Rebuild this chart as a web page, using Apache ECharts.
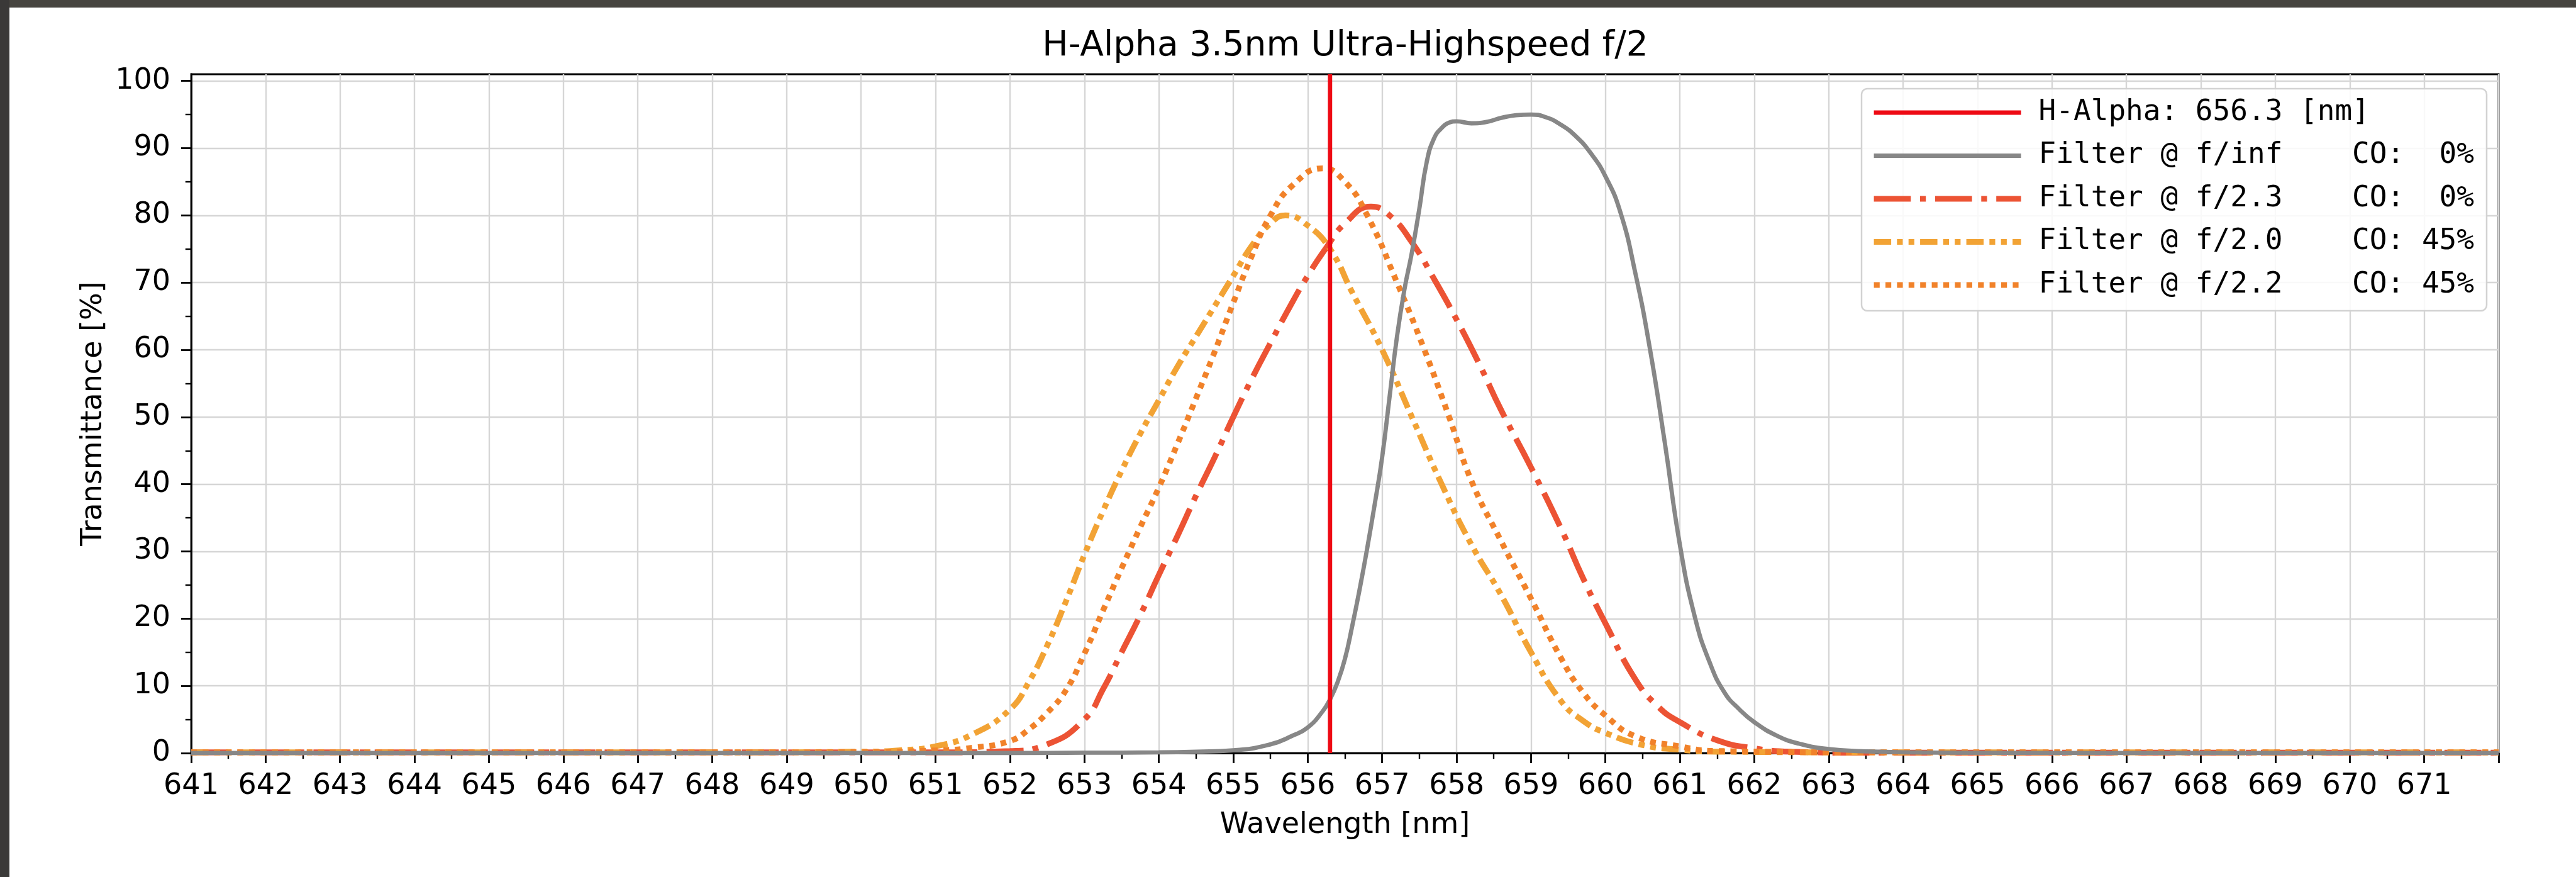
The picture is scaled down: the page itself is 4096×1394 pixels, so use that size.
<!DOCTYPE html>
<html>
<head>
<meta charset="utf-8">
<script src="https://cdn.jsdelivr.net/npm/echarts@6/dist/echarts.min.js"></script>
<style>
html, body { margin: 0; padding: 0; background: #fff; }
#chart { position: absolute; left: 0; top: 0; width: 4096px; height: 1394px; }
#frameTop { position: absolute; left: 0; top: 0; width: 4096px; height: 12px; background: #46443f; }
#frameLeft { position: absolute; left: 0; top: 0; width: 15px; height: 1394px; background: #3a3938; }
</style>
</head>
<body>
<div id="chart"></div>
<div id="frameTop"></div>
<div id="frameLeft"></div>
<script>
// H-Alpha marker
var hAlpha = 656.3;

// filter @ f/inf, CO 0%
var wlInf = [641, 645, 649, 652, 653, 654, 654.5, 655, 655.5, 655.8, 656, 656.2, 656.3, 656.4, 656.5, 656.6, 656.7, 656.8, 656.9, 657,
	657.1, 657.2, 657.3, 657.4, 657.5, 657.6, 657.7, 657.8, 657.9, 658, 658.2, 658.4, 658.6, 658.8, 659, 659.2, 659.4, 659.6, 659.8, 660,
	660.2, 660.4, 660.6, 660.8, 661, 661.2, 661.4, 661.6, 661.8, 662, 662.3, 662.6, 663, 663.5, 664.5, 668, 672];
var tInf = [0, 0, 0, 0, 0.05, 0.1, 0.2, 0.4, 1.3, 2.6, 3.8, 6.2, 8, 10.5, 14, 19, 24.5, 30.5, 37, 44,
	53, 62, 69, 74.5, 81, 88, 91.5, 93, 93.8, 94, 93.7, 93.9, 94.5, 94.9, 95, 94.6, 93.5, 91.8, 89.3, 85.8,
	80.5, 71.5, 60, 46, 31, 20.3, 13.5, 9, 6.5, 4.6, 2.6, 1.4, 0.6, 0.25, 0.05, 0, 0];

// filter @ f/2.3, CO 0%
var wl23 = [641, 645, 649, 651, 652, 652.5, 653, 653.25, 653.5, 653.75, 654, 654.25, 654.5, 654.75, 655, 655.25, 655.5, 655.75, 656, 656.25,
	656.5, 656.85, 657.1, 657.4, 657.7, 658, 658.3, 658.6, 659, 659.4, 659.7, 660, 660.4, 660.7, 661, 661.5, 662, 662.5, 663.5, 668, 672];
var t23 = [0.1, 0.1, 0.1, 0.1, 0.3, 1.3, 5, 9.5, 15, 20.5, 26.5, 32.3, 38.3, 44, 50, 55.7, 61, 66.2, 71, 75.2,
	78.8, 81.3, 80, 76, 70.5, 64.5, 58, 51, 42.5, 33.5, 26, 19.3, 11, 7, 4.6, 1.9, 0.7, 0.2, 0.05, 0.05, 0.05];

// filter @ f/2.0, CO 45%
var wl20 = [641, 645, 648, 650, 650.5, 651, 651.5, 652, 652.25, 652.5, 652.75, 653, 653.25, 653.5, 653.75, 654, 654.25, 654.5, 654.75, 655,
	655.25, 655.5, 655.7, 656, 656.3, 656.6, 657, 657.4, 657.8, 658.2, 658.6, 659, 659.4, 659.7, 660, 660.5, 661, 661.5, 664, 668, 672];
var t20 = [0.1, 0.1, 0.1, 0.2, 0.4, 1.0, 2.8, 6.5, 10.5, 16, 22.5, 29.5, 36, 42, 47.5, 52.5, 57.5, 62, 66.5, 71,
	75.5, 78.8, 80, 78.5, 75, 68.5, 60, 50, 40, 31, 23.5, 15, 7.8, 4.8, 3.0, 1.2, 0.5, 0.2, 0.1, 0.1, 0.1];

// filter @ f/2.2, CO 45%
var wl22 = [641, 645, 648, 650, 651, 651.5, 652, 652.25, 652.5, 652.75, 653, 653.25, 653.5, 653.75, 654, 654.25, 654.5, 654.75, 655, 655.25,
	655.5, 655.8, 656.2, 656.5, 656.8, 657.2, 657.55, 657.9, 658.2, 658.6, 659, 659.4, 659.7, 660, 660.4, 661, 661.5, 664, 668, 672];
var t22 = [0.1, 0.1, 0.1, 0.15, 0.4, 0.8, 1.8, 3.5, 6, 9.3, 14.8, 21.2, 27.5, 33.6, 39.5, 46, 52.8, 59.7, 67, 74,
	80, 84.5, 87, 85, 80, 70, 60.5, 50, 40.5, 31.5, 23, 14.2, 9, 5.6, 2.5, 1.0, 0.3, 0.1, 0.1, 0.1];

var xTicks = [641, 642, 643, 644, 645, 646, 647, 648, 649, 650, 651, 652, 653, 654, 655, 656,
	657, 658, 659, 660, 661, 662, 663, 664, 665, 666, 667, 668, 669, 670, 671];
var yTicks = [0, 10, 20, 30, 40, 50, 60, 70, 80, 90, 100];
var yMinorTicks = [5, 15, 25, 35, 45, 55, 65, 75, 85, 95];

var names = [
	'H-Alpha: 656.3 [nm]',
	'Filter @ f/inf    CO:  0%',
	'Filter @ f/2.3    CO:  0%',
	'Filter @ f/2.0    CO: 45%',
	'Filter @ f/2.2    CO: 45%'
];

function pairs(xs, ys) {
	var out = [], i;
	for (i = 0; i < xs.length; i++)
		out.push([xs[i], ys[i]]);
	return out;
}

var sansFont = 'DejaVu Sans',
	monoFont = 'DejaVu Sans Mono',
	gridColor = '#d6d6d6';

function curve(name, xs, ys, color, width, dash, z) {
	return {
		name: name,
		type: 'line',
		data: pairs(xs, ys),
		symbol: 'none',
		smooth: 0.5,
		clip: true,
		z: z || 2,
		itemStyle: { color: color },
		lineStyle: { color: color, width: width, type: dash, cap: 'butt' }
	};
}

var chart = echarts.init(document.getElementById('chart'), null, { renderer: 'canvas' });

var option = {
	animation: false,
	backgroundColor: '#ffffff',
	title: {
		text: 'H-Alpha 3.5nm Ultra-Highspeed f/2',
		left: 2139,
		top: 46,
		padding: 0,
		textAlign: 'center',
		textStyle: { fontFamily: sansFont, fontSize: 55, fontWeight: 'normal', color: '#000' }
	},
	legend: {
		orient: 'vertical',
		left: 2960,
		top: 141,
		padding: [13, 20, 16, 15],
		itemWidth: 234,
		itemHeight: 20,
		itemGap: 18.5,
		selectedMode: false,
		backgroundColor: 'rgba(255,255,255,0.85)',
		borderColor: '#d2d2d2',
		borderWidth: 2.5,
		borderRadius: 9,
		itemStyle: { opacity: 0 },
		lineStyle: { width: 'inherit' },
		textStyle: { fontFamily: monoFont, fontSize: 46, lineHeight: 50, color: '#000', padding: [0, 0, 0, 23] },
		data: names
	},
	grid: {
		left: 304,
		right: 123,
		top: 118,
		bottom: 197,
		containLabel: false,
		outerBoundsMode: 'none',
		show: true,
		borderColor: '#000',
		borderWidth: 2.9,
		backgroundColor: 'transparent'
	},
	xAxis: {
		type: 'value',
		min: 641,
		max: 672,
		interval: 1,
		name: 'Wavelength [nm]',
		nameLocation: 'middle',
		nameGap: 92,
		nameTextStyle: { fontFamily: sansFont, fontSize: 46, color: '#000' },
		axisLine: { show: true, lineStyle: { color: '#000', width: 2.9 } },
		axisTick: { show: true, inside: false, length: 16, lineStyle: { color: '#000', width: 2.8 } },
		minorTick: { show: true, splitNumber: 2, length: 9.2, lineStyle: { color: '#000', width: 2.4 } },
		axisLabel: { customValues: xTicks, margin: 30, fontFamily: sansFont, fontSize: 46, color: '#000' },
		splitLine: { show: true, lineStyle: { color: gridColor, width: 2.4 } }
	},
	yAxis: [{
		type: 'value',
		min: 0,
		max: 101,
		interval: 10,
		name: 'Transmittance [%]',
		nameLocation: 'middle',
		nameGap: 132,
		nameTextStyle: { fontFamily: sansFont, fontSize: 46, color: '#000' },
		axisLine: { show: true, lineStyle: { color: '#000', width: 2.9 } },
		axisTick: { show: true, customValues: yTicks, inside: false, length: 16, lineStyle: { color: '#000', width: 2.8 } },
		axisLabel: { customValues: yTicks, margin: 33, fontFamily: sansFont, fontSize: 46, color: '#000' },
		splitLine: { show: true, lineStyle: { color: gridColor, width: 2.4 } }
	}, {
		// minor ticks only
		type: 'value',
		min: 0,
		max: 101,
		interval: 10,
		position: 'left',
		axisLine: { show: false },
		axisTick: { show: true, customValues: yMinorTicks, inside: false, length: 9.2, lineStyle: { color: '#000', width: 2.4 } },
		axisLabel: { show: false },
		splitLine: { show: false }
	}],
	series: [
		{
			name: names[0],
			type: 'line',
			data: [[hAlpha, 0], [hAlpha, 101]],
			symbol: 'none',
			z: 5,
			itemStyle: { color: '#ee0a14' },
			lineStyle: { color: '#ee0a14', width: 6.8, type: 'solid' }
		},
		curve(names[1], wlInf, tInf, '#878787', 6.8, 'solid', 3),
		curve(names[2], wl23, t23, '#ec5334', 9.2, [58.7, 14.7, 9.2, 14.7], 2),
		curve(names[3], wl20, t20, '#f2a335', 9.2, [27.5, 9.2, 9.2, 9.2, 9.2, 9.2], 2),
		curve(names[4], wl22, t22, '#f1822a', 9.2, [9.2, 9.2], 2)
	]
};

chart.setOption(option);
</script>
</body>
</html>
